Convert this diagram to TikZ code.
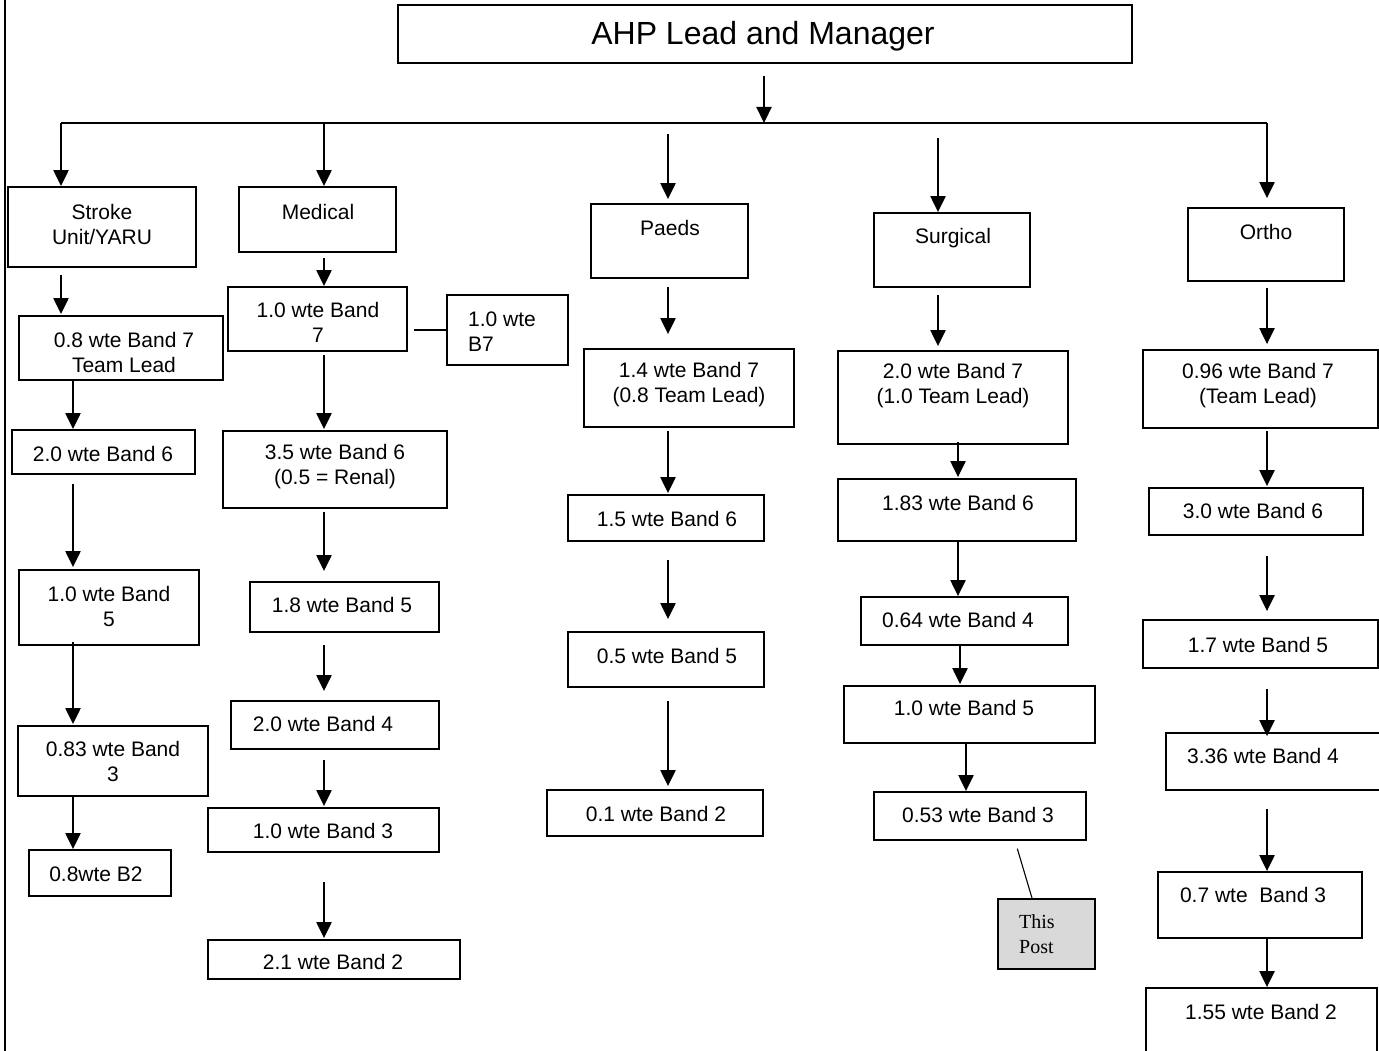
\documentclass[tikz,border=0pt]{standalone}
\usepackage{fontspec}
\setmainfont{Liberation Sans}
\newfontfamily\postfont{Liberation Serif}
\usetikzlibrary{arrows.meta}
\tikzset{
  box/.style={draw, line width=1.8pt, inner sep=0pt, rectangle},
  postbox/.style={box, fill=black!15},
  txt/.style={font=\fontsize{21}{25}\selectfont, align=center, inner sep=0pt},
  ltxt/.style={txt, align=left, anchor=west},
  arr/.style={line width=2.2pt, -{Triangle[length=16pt,width=15pt]}},
  ln/.style={line width=2pt},
  thinln/.style={line width=1.1pt}
}
\newcommand\conn[5]{\draw[arr, shorten <=#4pt, shorten >=#5pt] (#2.south -| #1) -- (#3.north -| #1);}
\newcommand\B[5]{\node[box, minimum width={#4-#2}, minimum height={#5-#3}] (#1) at ({(#2+#4)/2},{(#3+#5)/2}) {};}
\begin{document}
\begin{tikzpicture}[x=1pt,y=-1pt]
\useasboundingbox (0,0) rectangle (1379,1051);
\clip (0,0) rectangle (1379,1051);
% left border
\coordinate (bt) at (5,0);
\coordinate (bb) at (5,1051);
\draw[ln] (bt) -- (bb);
% columns
\coordinate (cS) at (61,0);
\coordinate (cS2) at (73,0);
\coordinate (cM) at (324,0);
\coordinate (cP) at (668,0);
\coordinate (cG) at (938,0);
\coordinate (cG2) at (958,0);
\coordinate (cG3) at (960,0);
\coordinate (cG4) at (966,0);
\coordinate (cO) at (1267,0);
\coordinate (cT) at (764,0);
% boxes: name, x1, y1, x2, y2
\B{top}{398}{5}{1132}{63}
\B{stroke}{8}{187}{196}{267}
\B{med}{239}{187}{396}{252}
\B{paeds}{591}{204}{748}{278}
\B{surg}{874}{213}{1030}{287}
\B{ortho}{1188}{208}{1344}{281}
\B{s1}{19}{316}{223}{380}
\B{s2}{12}{430}{195}{474}
\B{s3}{19}{570}{199}{645}
\B{s4}{18}{726}{208}{796}
\B{s5}{29}{850}{171}{896}
\B{m1}{228}{287}{407}{351}
\B{b7}{447}{295}{568}{365}
\B{m2}{223}{431}{447}{508}
\B{m3}{250}{582}{439}{632}
\B{m4}{231}{701}{439}{749}
\B{m5}{208}{808}{439}{852}
\B{m6}{208}{940}{460}{979}
\B{p1}{584}{349}{794}{427}
\B{p2}{568}{495}{764}{541}
\B{p3}{568}{632}{764}{687}
\B{p4}{547}{790}{763}{836}
\B{g1}{838}{351}{1068}{444}
\B{g2}{838}{479}{1076}{541}
\B{g3}{861}{597}{1068}{645}
\B{g4}{844}{686}{1095}{743}
\B{g5}{874}{792}{1086}{840}
\node[postbox, minimum width=97, minimum height=70] (post) at (1046.5,934) {};
\B{o1}{1143}{350}{1378}{428}
\B{o2}{1149}{488}{1363}{535}
\B{o3}{1143}{620}{1378}{668}
\B{o4}{1166}{733}{1395}{790}
\B{o5}{1158}{872}{1362}{938}
\B{o6}{1146}{988}{1377}{1075}
% texts
\node[txt, font=\fontsize{32}{38}\selectfont] (topt) at (763,36) {AHP Lead and Manager};
\node[txt] (strokt) at (102,224) {Stroke\\Unit/YARU};
\node[txt] (medt) at (318,212) {Medical};
\node[txt] (paedst) at (670,228) {Paeds};
\node[txt] (surgt) at (953,238) {Surgical};
\node[txt] (orthot) at (1266,232) {Ortho};
\node[txt] (s1t) at (124,352) {0.8 wte Band 7\\Team Lead};
\node[txt] (s2t) at (103,454) {2.0 wte Band 6};
\node[txt] (s3t) at (109,606) {1.0 wte Band\\5};
\node[txt] (s4t) at (113,761) {0.83 wte Band\\3};
\node[txt] (s5t) at (96,874) {0.8wte B2};
\node[txt] (m1t) at (318,322) {1.0 wte Band\\7};
\node[ltxt] (b7t) at (468,332) {1.0 wte\\B7};
\node[txt] (m2t) at (335,467) {3.5 wte Band 6\\(0.5 = Renal)};
\node[txt] (m3t) at (342,605) {1.8 wte Band 5};
\node[txt] (m4t) at (323,724) {2.0 wte Band 4};
\node[txt] (m5t) at (323,831) {1.0 wte Band 3};
\node[txt] (m6t) at (333,962) {2.1 wte Band 2};
\node[txt] (p1t) at (689,385) {1.4 wte Band 7\\(0.8 Team Lead)};
\node[txt] (p2t) at (667,519) {1.5 wte Band 6};
\node[txt] (p3t) at (667,656) {0.5 wte Band 5};
\node[txt] (p4t) at (656,814) {0.1 wte Band 2};
\node[txt] (g1t) at (953,386) {2.0 wte Band 7\\(1.0 Team Lead)};
\node[txt] (g2t) at (958,503) {1.83 wte Band 6};
\node[txt] (g3t) at (958,620) {0.64 wte Band 4};
\node[txt] (g4t) at (964,708) {1.0 wte Band 5};
\node[txt] (g5t) at (978,815) {0.53 wte Band 3};
\node[ltxt, font=\postfont\fontsize{20}{25}\selectfont] (postt) at (1019,934) {This\\Post};
\node[txt] (o1t) at (1258,386) {0.96 wte Band 7\\(Team Lead)};
\node[txt] (o2t) at (1253,511) {3.0 wte Band 6};
\node[txt] (o3t) at (1258,645) {1.7 wte Band 5};
\node[txt] (o4t) at (1263,756) {3.36 wte Band 4};
\node[txt] (o5t) at (1253,895) {0.7 wte~ Band 3};
\node[txt] (o6t) at (1261,1012) {1.55 wte Band 2};
% bus
\coordinate (bus) at (764,123);
\coordinate (busL) at (61,123);
\coordinate (busR) at (1267,123);
\draw[arr, shorten <=12pt] (top.south -| cT) -- (bus);
\draw[ln] (busL) -- (busR);
\draw[arr] (busL) -- (stroke.north -| cS);
\draw[arr] (bus -| cM) -- (med.north -| cM);
\draw[arr, shorten >=9pt] (busR) -- (ortho.north -| cO);
\coordinate (pst) at (668,134);
\coordinate (gst) at (938,138);
\draw[arr, shorten >=4pt] (pst) -- (paeds.north -| cP);
\draw[arr] (gst) -- (surg.north -| cG);
% stroke column
\conn{cS}{stroke}{s1}{7}{1}
\conn{cS2}{s1}{s2}{0}{0}
\conn{cS2}{s2}{s3}{9}{2}
\conn{cS2}{s3}{s4}{-4}{1}
\conn{cS2}{s4}{s5}{0}{0}
% medical column
\conn{cM}{med}{m1}{5}{0}
\draw[ln] ([xshift=6pt]m1.east |- b7.west) -- (b7.west);
\conn{cM}{m1}{m2}{3}{1}
\conn{cM}{m2}{m3}{3}{10}
\conn{cM}{m3}{m4}{12}{9}
\conn{cM}{m4}{m5}{10}{1}
\conn{cM}{m5}{m6}{29}{1}
% paeds column
\conn{cP}{paeds}{p1}{8}{14}
\conn{cP}{p1}{p2}{3}{1}
\conn{cP}{p2}{p3}{18}{12}
\conn{cP}{p3}{p4}{13}{3}
% surgical column
\conn{cG}{surg}{g1}{7}{4}
\conn{cG2}{g1}{g2}{-3}{1}
\conn{cG2}{g2}{g3}{0}{0}
\conn{cG3}{g3}{g4}{0}{1}
\conn{cG4}{g4}{g5}{0}{0}
\coordinate (lnA) at (1015,0);
\coordinate (lnB) at (1032,0);
\draw[thinln, shorten <=8pt] (g5.south -| lnA) -- (post.north -| lnB);
% ortho column
\conn{cO}{ortho}{o1}{6}{5}
\conn{cO}{o1}{o2}{2}{1}
\conn{cO}{o2}{o3}{20}{8}
\conn{cO}{o3}{o4}{20}{-4}
\conn{cO}{o4}{o5}{18}{0}
\conn{cO}{o5}{o6}{0}{0}
\end{tikzpicture}
\end{document}
